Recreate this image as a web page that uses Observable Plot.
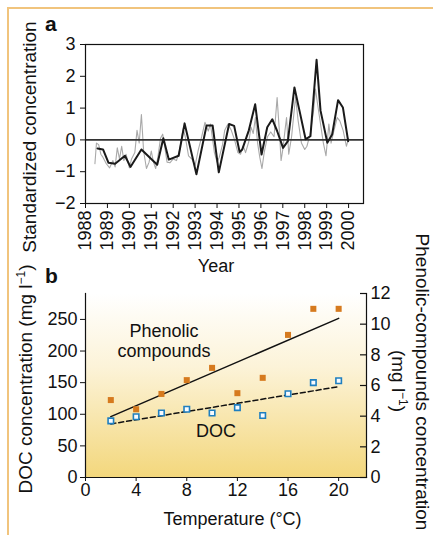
<!DOCTYPE html>
<html><head><meta charset="utf-8">
<script src="https://cdn.jsdelivr.net/npm/d3@7"></script>
<script src="https://cdn.jsdelivr.net/npm/@observablehq/plot@0.6"></script>
<style>
body{margin:0;background:#fff;}
#wrap{position:relative;width:433px;height:535px;overflow:hidden;font-family:"Liberation Sans",Arial,Helvetica,sans-serif;color:#111;background:#fff;}
#wrap svg{position:absolute;left:0;}
.lbl{position:absolute;font-size:18px;line-height:18px;white-space:nowrap;}
.ctr{transform:translateX(-50%);}
.rotL{transform:translate(-50%,-50%) rotate(-90deg);font-size:19px;line-height:19px;}
.rotR{transform:translate(-50%,-50%) rotate(90deg);font-size:19px;line-height:19px;}
.panel{position:absolute;font-weight:bold;font-size:21px;line-height:21px;}
.sup{font-size:12px;position:relative;top:-7px;}
.border{position:absolute;background:#f1c47d;}
</style></head>
<body>
<div id="wrap">
  <div class="border" style="left:7px;top:7px;width:426px;height:2px"></div>
  <div class="border" style="left:7px;top:7px;width:2px;height:528px"></div>
</div>
<script>
// ---- Panel a: standardized concentration time series ----
const blackYears = [1988.55,1988.8,1989.05,1989.35,1989.8,1990.05,1990.55,1991.27,1991.55,1991.8,1992.25,1992.52,1993.06,1993.52,1993.8,1994.08,1994.55,1994.78,1995.03,1995.15,1995.45,1995.74,1996.03,1996.29,1996.52,1996.74,1997.01,1997.23,1997.53,1997.76,1998.04,1998.26,1998.54,1998.72,1999.03,1999.25,1999.52,1999.74,1999.98];
const blackValues = [-0.27,-0.3,-0.72,-0.75,-0.5,-0.85,-0.3,-0.78,0.05,-0.62,-0.5,0.52,-1.08,0.45,0.45,-1.02,0.5,0.44,-0.38,-0.3,0.3,1.12,-0.46,0.4,0.65,0.28,-0.25,-0.04,1.65,0.92,0.02,0.12,2.52,0.92,-0.09,0.17,1.25,1.02,-0.04];
const grayYears = [1988.43,1988.5,1988.6,1988.7,1988.8,1988.95,1989.1,1989.25,1989.35,1989.45,1989.55,1989.65,1989.75,1989.85,1990.0,1990.1,1990.25,1990.35,1990.45,1990.55,1990.65,1990.78,1990.9,1991.0,1991.1,1991.2,1991.3,1991.42,1991.52,1991.6,1991.72,1991.85,1992.0,1992.15,1992.3,1992.45,1992.55,1992.7,1992.85,1993.0,1993.15,1993.3,1993.45,1993.6,1993.7,1993.88,1994.0,1994.1,1994.25,1994.35,1994.5,1994.65,1994.8,1994.95,1995.07,1995.2,1995.3,1995.45,1995.55,1995.65,1995.75,1995.85,1995.95,1996.05,1996.15,1996.3,1996.45,1996.6,1996.74,1996.85,1996.92,1997.0,1997.1,1997.17,1997.27,1997.4,1997.58,1997.7,1997.85,1998.0,1998.1,1998.25,1998.4,1998.49,1998.57,1998.72,1998.85,1998.97,1999.1,1999.2,1999.3,1999.48,1999.6,1999.75,1999.9,2000.0];
const grayValues = [-0.75,-0.1,-0.15,-0.45,-0.55,-0.75,-0.88,-0.65,-0.85,-0.25,-0.6,-0.2,-0.65,-0.45,-0.88,-0.6,-0.4,0.3,-0.1,0.8,-0.35,-0.9,-0.7,-0.35,-0.7,-0.9,-0.55,0.05,0.18,-0.15,-0.7,-0.72,-0.6,-0.65,-0.3,0.35,0.1,-0.5,-0.6,-0.8,-0.3,0.1,0.55,0.28,0.5,-0.4,-0.7,-0.55,-0.15,0.3,0.5,0.3,0.0,-0.4,-0.45,-0.2,-0.4,-0.05,0.4,0.2,0.7,-0.1,-0.55,-0.9,-0.4,0.1,0.25,0.1,1.33,0.2,-0.65,-0.3,0.3,0.7,-0.45,0.1,1.35,0.6,-0.1,-0.3,-0.2,0.2,0.9,1.6,1.2,0.5,-0.1,-0.5,0.5,-0.1,0.2,0.7,0.6,0.3,-0.2,0.05];
const yearTicks = [1988,1989,1990,1991,1992,1993,1994,1995,1996,1997,1998,1999,2000];
const stdTicks = [-2,-1,0,1,2,3];

// ---- Panel b: concentration vs temperature ----
const temps = [2,4,6,8,10,12,14,16,18,20];
const docValues = [89.6,96,102,108,102,110.5,98,132.5,150,153];          // mg l-1 (left axis)
const phenolicValues = [5.05,4.45,5.45,6.35,7.15,5.5,6.5,9.3,11.0,11.0]; // mg l-1 (right axis)
const tempTicks = [0,4,8,12,16,20];
const docTicks = [0,50,100,150,200,250];
const phenTicks = [0,2,4,6,8,10,12];
const DOC_MAX = 291, PHEN_MAX = 12;

const font = '"Liberation Sans", Arial, Helvetica, sans-serif';
const minus = d => d < 0 ? "\u2212" + Math.abs(d) : String(d);
const wrap = document.getElementById("wrap");

const black = blackYears.map((x, i) => ({x, y: blackValues[i]}));
const gray = grayYears.map((x, i) => ({x, y: grayValues[i]}));

const plotA = Plot.plot({
  width: 433, height: 260,
  marginLeft: 85, marginRight: 70, marginTop: 44, marginBottom: 57,
  style: {fontFamily: font, fontSize: "18px", color: "#111", background: "transparent", overflow: "visible"},
  x: {domain: [1988, 2000.68]},
  y: {domain: [-2, 3]},
  marks: [
    Plot.line(gray, {x: "x", y: "y", stroke: "#a9a9a9", strokeWidth: 1.1}),
    Plot.ruleY([0], {stroke: "#333", strokeWidth: 1.6}),
    Plot.line(black, {x: "x", y: "y", stroke: "#1a1a1a", strokeWidth: 2}),
    Plot.frame({stroke: "#111", strokeWidth: 1.2}),
    Plot.axisX(yearTicks, {tickSize: 5, tickPadding: 2, tickRotate: -90, tickFormat: d => String(d), label: null}),
    Plot.axisY(stdTicks, {tickSize: 5, tickPadding: 5, tickFormat: minus, label: null})
  ]
});
plotA.style.top = "0px";
wrap.appendChild(plotA);

const ratio = DOC_MAX / PHEN_MAX;
const ptsB = temps.map((t, i) => ({t, doc: docValues[i], phen: phenolicValues[i] * ratio}));
const gradientDefs = () => {
  const ns = "http://www.w3.org/2000/svg";
  const defs = document.createElementNS(ns, "defs");
  defs.innerHTML = '<linearGradient id="bgGrad" x1="0" y1="0" x2="0" y2="1">' +
    '<stop offset="0" stop-color="#ffffff"/><stop offset="0.4" stop-color="#fcf3d8"/>' +
    '<stop offset="1" stop-color="#f3d77c"/></linearGradient>';
  return defs;
};
const rightTicks = phenTicks.map(v => v * ratio);

const plotB = Plot.plot({
  width: 433, height: 265,
  marginLeft: 85, marginRight: 67, marginTop: 23, marginBottom: 58,
  style: {fontFamily: font, fontSize: "18px", color: "#111", background: "transparent", overflow: "visible"},
  x: {domain: [0, 22.2]},
  y: {domain: [0, DOC_MAX]},
  marks: [
    gradientDefs,
    Plot.frame({fill: "url(#bgGrad)", stroke: null}),
    Plot.frame({anchor: "left", stroke: "#111", strokeWidth: 1.2}),
    Plot.frame({anchor: "bottom", stroke: "#111", strokeWidth: 1.2}),
    Plot.frame({anchor: "right", stroke: "#111", strokeWidth: 1.2}),
    Plot.linearRegressionY(ptsB, {x: "t", y: "phen", stroke: "#111", strokeWidth: 1.5, ci: 0}),
    Plot.linearRegressionY(ptsB, {x: "t", y: "doc", stroke: "#111", strokeWidth: 1.5, strokeDasharray: "5,3", ci: 0}),
    Plot.dot(ptsB, {x: "t", y: "phen", symbol: "square", r: 3.4, fill: "#d67a1e", stroke: null}),
    Plot.dot(ptsB, {x: "t", y: "doc", symbol: "square", r: 3.1, fill: "#f8fbff", stroke: "#1f7fc0", strokeWidth: 1.6}),
    Plot.axisX(tempTicks, {tickSize: 4, tickPadding: 2, label: null}),
    Plot.axisY(docTicks, {anchor: "left", tickSize: 5, tickPadding: 3, label: null}),
    Plot.tickY(rightTicks, {y: d => d, stroke: "#111", strokeWidth: 1.2, insetLeft: 275}),
    Plot.axisY(rightTicks, {anchor: "right", tickSize: 0, tickPadding: 4, label: null, tickFormat: d => String(Math.round(d / ratio))})
  ]
});
plotB.style.top = "270px";
wrap.appendChild(plotB);

// ---- text labels ----
const labels = [
  '<div class="panel" style="left:45px;top:13px">a</div>',
  '<div class="panel" style="left:45px;top:265px">b</div>',
  '<div class="lbl rotL" style="left:28.5px;top:137px">Standardized concentration</div>',
  '<div class="lbl ctr" style="left:216px;top:257px">Year</div>',
  '<div class="lbl rotL" style="left:27px;top:379px">DOC concentration (mg l<span class="sup">\u22121</span>)</div>',
  '<div class="lbl rotR" style="left:421.5px;top:382px">Phenolic-compounds concentration</div>',
  '<div class="lbl rotR" style="left:396.5px;top:381px">(mg l<span class="sup">\u22121</span>)</div>',
  '<div class="lbl ctr" style="left:164px;top:322px">Phenolic</div>',
  '<div class="lbl ctr" style="left:164px;top:342px">compounds</div>',
  '<div class="lbl ctr" style="left:216px;top:422px">DOC</div>',
  '<div class="lbl ctr" style="left:232.5px;top:510px">Temperature (\u00b0C)</div>'
];
for (const h of labels) wrap.insertAdjacentHTML("beforeend", h);
</script>
</body></html>
